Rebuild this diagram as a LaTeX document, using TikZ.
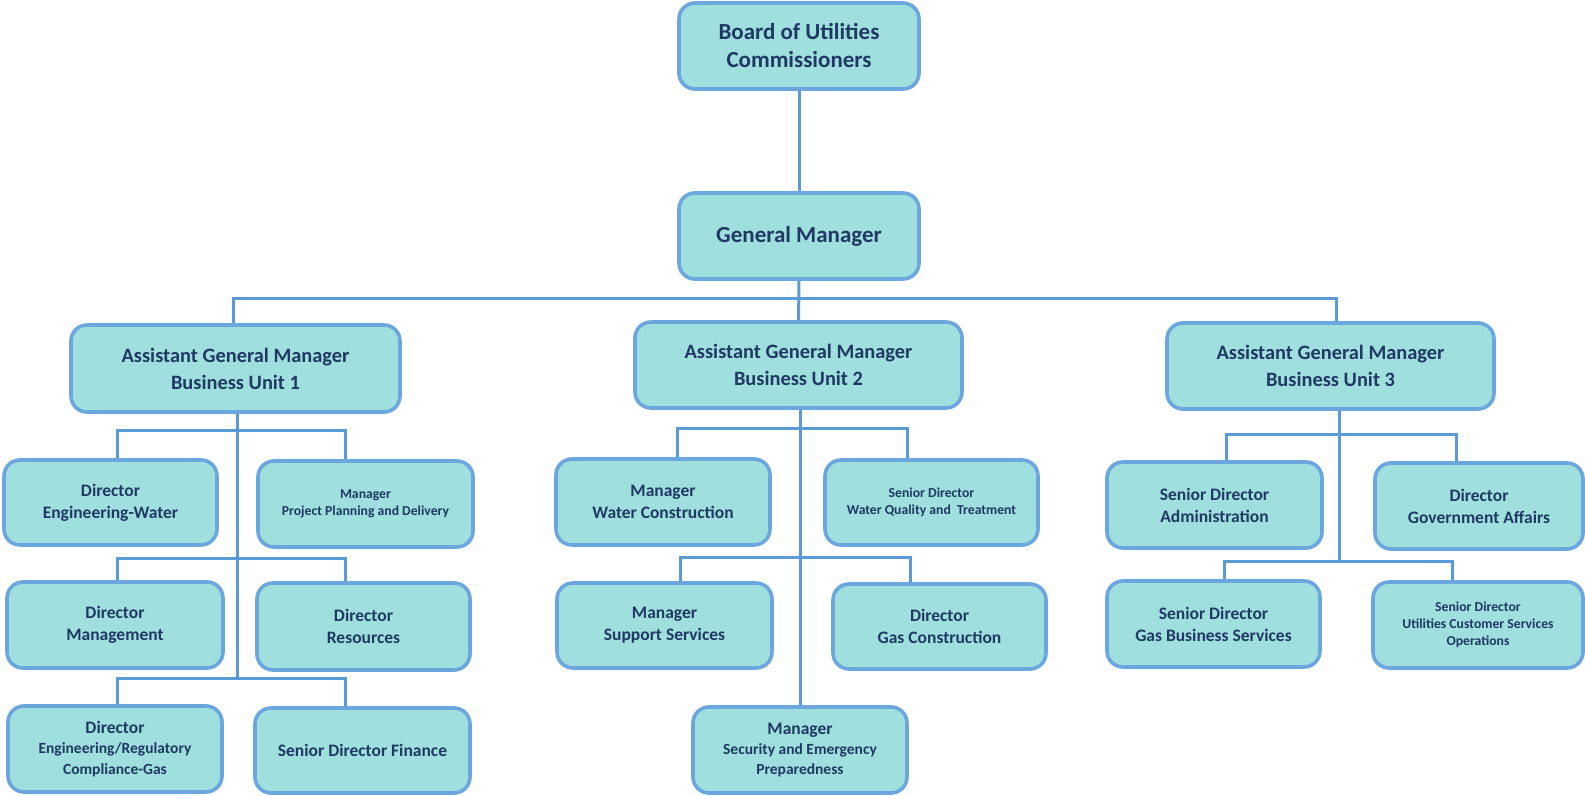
\documentclass[tikz,border=0pt]{standalone}
\usepackage{fontspec}
\setmainfont{Carlito}
\definecolor{boxfill}{RGB}{159,223,221}
\definecolor{boxline}{RGB}{108,166,222}
\definecolor{conncol}{RGB}{91,155,213}
\definecolor{txt}{RGB}{31,56,100}
\newcommand\fsT{\fontsize{11.5}{14}\selectfont}
\newcommand\fsA{\fontsize{10.2}{13.5}\selectfont}
\newcommand\fsL{\fontsize{8.75}{11}\selectfont}
\newcommand\fsM{\fontsize{7.75}{10.2}\selectfont}
\newcommand\fsS{\fontsize{6.85}{8.6}\selectfont}
\tikzset{
  box/.style={draw=boxline, fill=boxfill, line width=1.8pt, rounded corners=8pt,
    align=center, text=txt, font=\bfseries\fsL, inner sep=2pt},
  conn/.style={draw=conncol, line width=1.5pt},
}
% \bx{name}{x1}{y1}{x2}{y2}{font}{text}
\newcommand\bx[7]{\node[box, font=\bfseries#6, minimum width={((#4)-(#2))*0.5pt}, minimum height={((#5)-(#3))*0.5pt}]
  (#1) at ({((#2)+(#4))/2},{((#3)+(#5))/2}) {#7};}
\begin{document}
\begin{tikzpicture}[x=0.5pt,y=-0.5pt]
\fill[white] (0,0) rectangle (1585,796);
\useasboundingbox (0,0) rectangle (1585,796);
% boxes
\bx{board}{679}{3}{919}{89}{\fsT}{Board of Utilities\\Commissioners}
\bx{gm}{679}{193}{919}{279}{\fsT}{General Manager}
\bx{agmA}{71}{325}{400}{412}{\fsA}{Assistant General Manager\\Business Unit 1}
\bx{agmB}{635}{322}{962}{408}{\fsA}{Assistant General Manager\\Business Unit 2}
\bx{agmC}{1167}{323}{1494}{409}{\fsA}{Assistant General Manager\\Business Unit 3}
\bx{dew}{4}{460}{217}{545}{\fsL}{Director\\Engineering-Water}
\bx{mppd}{258}{461}{473}{547}{\fsS}{Manager\\Project Planning and Delivery}
\bx{dm}{7}{582}{223}{668}{\fsL}{Director\\Management}
\bx{dr}{257}{583}{470}{670}{\fsL}{Director\\Resources}
\bx{der}{8}{706}{222}{792}{\fsM}{\fsL Director\\Engineering/Regulatory\\Compliance-Gas}
\bx{sdf}{255}{708}{470}{793}{\fsL}{Senior Director Finance}
\bx{mwc}{556}{459}{770}{545}{\fsL}{Manager\\Water Construction}
\bx{sdwq}{825}{460}{1038}{545}{\fsS}{Senior Director\\Water Quality and\ \ Treatment}
\bx{mss}{557}{583}{772}{668}{\fsL}{Manager\\Support Services}
\bx{dgc}{833}{584}{1046}{669}{\fsL}{Director\\Gas Construction}
\bx{mse}{693}{707}{907}{793}{\fsM}{\fsL Manager\\Security and Emergency\\Preparedness}
\bx{sda}{1107}{462}{1322}{548}{\fsL}{Senior Director\\Administration}
\bx{dga}{1375}{463}{1583}{549}{\fsL}{Director\\Government Affairs}
\bx{sdgb}{1107}{581}{1320}{667}{\fsL}{Senior Director\\Gas Business Services}
\bx{ucso}{1373}{582}{1583}{668}{\fsS}{Senior Director\\Utilities Customer Services\\Operations}
% junctions
\coordinate (bus) at (799,299);
\coordinate (jA1) at (237,431);
\coordinate (jA2) at (237,558);
\coordinate (jA3) at (237,678);
\coordinate (jB1) at (800,429);
\coordinate (jB2) at (800,557);
\coordinate (jC1) at (1339,435);
\coordinate (jC2) at (1339,561);
% connectors
\draw[conn] (board) -- (gm);
\draw[conn] (gm) -- (agmB);
\draw[conn] (agmA.north -| 233,0) |- (bus) -| (agmC.north -| 1336,0);
\draw[conn] (agmA.south -| jA3) -- (jA3);
\draw[conn] (dew.north -| 117,0) |- (jA1) -| (mppd.north -| 345,0);
\draw[conn] (dm.north -| 117,0) |- (jA2) -| (dr.north -| 345,0);
\draw[conn] (der.north -| 117,0) |- (jA3) -| (sdf.north -| 345,0);
\draw[conn] (agmB.south -| jB1) -- (mse.north -| jB1);
\draw[conn] (mwc.north -| 677,0) |- (jB1) -| (sdwq.north -| 907,0);
\draw[conn] (mss.north -| 680,0) |- (jB2) -| (dgc.north -| 910,0);
\draw[conn] (agmC.south -| jC1) -- (jC2);
\draw[conn] (sda.north -| 1226,0) |- (jC1) -| (dga.north -| 1456,0);
\draw[conn] (sdgb.north -| 1224,0) |- (jC2) -| (ucso.north -| 1452,0);
\end{tikzpicture}
\end{document}
